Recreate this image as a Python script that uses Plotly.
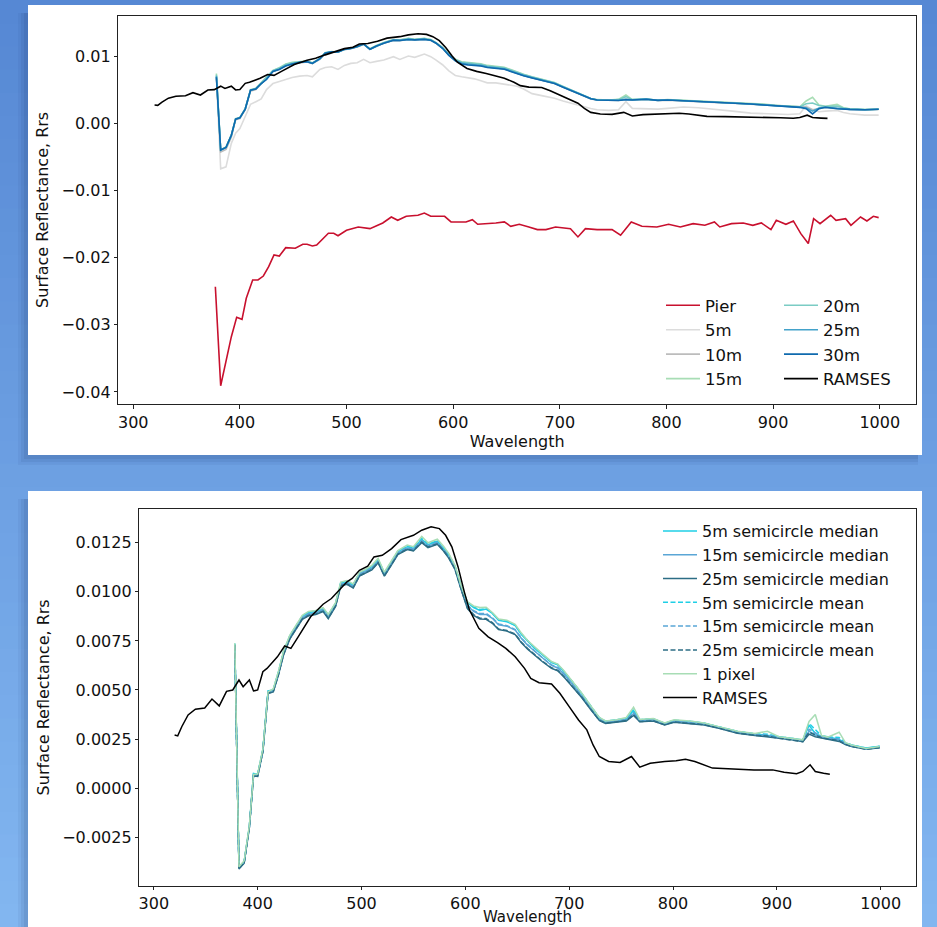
import plotly.graph_objects as go

# ---------------- DATA ----------------
WL = [378, 382, 387, 392, 396, 400, 405, 410, 415, 420,
      425, 431, 437, 443, 449, 456, 463, 468, 475, 480,
      486, 492, 498, 504, 510, 516, 522, 528, 535, 544,
      550, 558, 564, 573, 579, 584, 590, 596, 602, 608,
      614, 620, 626, 632, 640, 648, 654, 660, 666, 674,
      683, 689, 695, 703, 712, 720, 729, 735, 746, 755,
      762, 768, 781, 792, 801, 816, 830, 845, 862, 879,
      891, 902, 914, 925, 931, 937, 943, 949, 960, 966,
      972, 986, 999]

PIER_WL = [377, 382, 392, 397, 402, 406, 412, 417, 422, 427, 432, 437, 443, 452, 459, 463,
           468, 472, 483, 488, 492, 500, 511, 522, 534, 542, 548, 556, 567, 573, 579, 592,
           598, 612, 618, 623, 640, 648, 654, 662, 671, 679, 687, 696, 710, 717, 724, 735,
           749, 757, 767, 777, 791, 802, 813, 825, 836, 845, 850, 861, 872, 881, 889, 898,
           903, 912, 919, 926, 933, 938, 944, 954, 959, 968, 973, 982, 988, 994, 999]
PIER = [-0.02434, -0.03908, -0.03178, -0.02890, -0.02920, -0.02607, -0.02334, -0.02334,
        -0.02275, -0.02136, -0.01962, -0.01977, -0.01853, -0.01862, -0.01803, -0.01803,
        -0.01828, -0.01813, -0.01639, -0.01639, -0.01675, -0.01594, -0.01545, -0.01570,
        -0.01485, -0.01396, -0.01446, -0.01386, -0.01371, -0.01337, -0.01386, -0.01386,
        -0.01470, -0.01470, -0.01436, -0.01505, -0.01485, -0.01470, -0.01535, -0.01505,
        -0.01545, -0.01584, -0.01584, -0.01545, -0.01570, -0.01693, -0.01570, -0.01584,
        -0.01584, -0.01668, -0.01470, -0.01535, -0.01545, -0.01505, -0.01545, -0.01495,
        -0.01520, -0.01470, -0.01545, -0.01495, -0.01485, -0.01520, -0.01485, -0.01584,
        -0.01446, -0.01505, -0.01455, -0.01644, -0.01792, -0.01421, -0.01495, -0.01371,
        -0.01446, -0.01421, -0.01520, -0.01396, -0.01455, -0.01386, -0.01406]

RAMSES_WL = [320, 323, 327, 333, 340, 349, 356, 363, 370, 376, 382, 386, 392, 396, 400,
             405, 409, 419, 426, 432, 439, 451, 463, 471, 480, 486, 491, 498, 506, 512,
             520, 529, 538, 550, 558, 567, 575, 581, 587, 593, 599, 604, 613, 622, 631,
             639, 648, 657, 663, 671, 683, 691, 700, 709, 717, 723, 729, 738, 749, 760,
             768, 778, 792, 803, 812, 821, 838, 855, 878, 896, 907, 919, 925, 932, 937,
             945, 951]
RAMSES = [0.00271, 0.00266, 0.00314, 0.00373, 0.00402, 0.00408, 0.00454, 0.00419, 0.00493,
          0.00500, 0.00551, 0.00517, 0.00551, 0.00495, 0.00500, 0.00593, 0.00610, 0.00669,
          0.00724, 0.00712, 0.00771, 0.00873, 0.00937, 0.00966, 0.01017, 0.01051, 0.01068,
          0.01110, 0.01131, 0.01178, 0.01186, 0.01220, 0.01266, 0.01288, 0.01314, 0.01331,
          0.01322, 0.01288, 0.01229, 0.01127, 0.01000, 0.00907, 0.00814, 0.00771, 0.00741,
          0.00712, 0.00669, 0.00610, 0.00559, 0.00537, 0.00531, 0.00483, 0.00415, 0.00347,
          0.00297, 0.00220, 0.00161, 0.00136, 0.00131, 0.00161, 0.00107, 0.00127, 0.00136,
          0.00139, 0.00147, 0.00136, 0.00102, 0.00097, 0.00093, 0.00093, 0.00081, 0.00073,
          0.00085, 0.00119, 0.00085, 0.00076, 0.00071]

# Top panel: distances from the pier
S5M = [0.00660, -0.00680, -0.00650, -0.00300, -0.00150, -0.00080, 0.00100, 0.00280, 0.00320, 0.00360,
       0.00500, 0.00590, 0.00620, 0.00650, 0.00680, 0.00700, 0.00710, 0.00690, 0.00800, 0.00830,
       0.00840, 0.00800, 0.00860, 0.00890, 0.00900, 0.00950, 0.00900, 0.00920, 0.00940, 0.00990,
       0.00950, 0.01000, 0.00980, 0.01030, 0.00990, 0.00940, 0.00870, 0.00780, 0.00710, 0.00690,
       0.00680, 0.00660, 0.00630, 0.00600, 0.00600, 0.00580, 0.00560, 0.00550, 0.00510, 0.00440,
       0.00410, 0.00390, 0.00370, 0.00330, 0.00290, 0.00250, 0.00220, 0.00200, 0.00190, 0.00200,
       0.00320, 0.00220, 0.00210, 0.00210, 0.00220, 0.00240, 0.00230, 0.00210, 0.00180, 0.00150,
       0.00140, 0.00140, 0.00130, 0.00140, 0.00260, 0.00200, 0.00170, 0.00180, 0.00190, 0.00160,
       0.00140, 0.00120, 0.00120]
S10M = [0.00690, -0.00430, -0.00390, -0.00210, 0.00050, 0.00070, 0.00200, 0.00480, 0.00500, 0.00585,
        0.00660, 0.00770, 0.00805, 0.00855, 0.00880, 0.00900, 0.00912, 0.00885, 0.00950, 0.01040,
        0.01058, 0.01055, 0.01095, 0.01110, 0.01135, 0.01172, 0.01098, 0.01145, 0.01190, 0.01232,
        0.01228, 0.01248, 0.01240, 0.01250, 0.01232, 0.01188, 0.01115, 0.01012, 0.00935, 0.00888,
        0.00872, 0.00868, 0.00856, 0.00835, 0.00822, 0.00808, 0.00774, 0.00740, 0.00710, 0.00676,
        0.00642, 0.00620, 0.00592, 0.00538, 0.00480, 0.00425, 0.00362, 0.00345, 0.00338, 0.00340,
        0.00360, 0.00346, 0.00352, 0.00338, 0.00344, 0.00335, 0.00325, 0.00310, 0.00296, 0.00283,
        0.00272, 0.00262, 0.00252, 0.00238, 0.00240, 0.00200, 0.00222, 0.00234, 0.00218, 0.00206,
        0.00204, 0.00198, 0.00205]
S15M = [0.00740, -0.00395, -0.00355, -0.00175, 0.00068, 0.00085, 0.00215, 0.00500, 0.00518, 0.00600,
        0.00680, 0.00785, 0.00825, 0.00880, 0.00905, 0.00915, 0.00925, 0.00898, 0.00962, 0.01050,
        0.01066, 0.01060, 0.01102, 0.01118, 0.01140, 0.01180, 0.01108, 0.01155, 0.01200, 0.01245,
        0.01240, 0.01262, 0.01250, 0.01262, 0.01245, 0.01200, 0.01130, 0.01028, 0.00950, 0.00915,
        0.00905, 0.00900, 0.00885, 0.00860, 0.00848, 0.00832, 0.00798, 0.00760, 0.00730, 0.00692,
        0.00655, 0.00635, 0.00605, 0.00548, 0.00490, 0.00432, 0.00368, 0.00350, 0.00345, 0.00355,
        0.00420, 0.00352, 0.00360, 0.00342, 0.00350, 0.00340, 0.00330, 0.00315, 0.00300, 0.00288,
        0.00285, 0.00265, 0.00256, 0.00245, 0.00330, 0.00385, 0.00270, 0.00250, 0.00280, 0.00230,
        0.00215, 0.00204, 0.00210]
S20M = [0.00720, -0.00398, -0.00358, -0.00178, 0.00064, 0.00082, 0.00212, 0.00496, 0.00514, 0.00596,
        0.00676, 0.00780, 0.00820, 0.00875, 0.00900, 0.00912, 0.00922, 0.00895, 0.00960, 0.01048,
        0.01064, 0.01058, 0.01100, 0.01116, 0.01138, 0.01178, 0.01104, 0.01152, 0.01198, 0.01242,
        0.01236, 0.01258, 0.01246, 0.01258, 0.01242, 0.01196, 0.01126, 0.01024, 0.00946, 0.00908,
        0.00895, 0.00892, 0.00878, 0.00852, 0.00840, 0.00825, 0.00790, 0.00754, 0.00724, 0.00686,
        0.00650, 0.00630, 0.00600, 0.00545, 0.00486, 0.00430, 0.00366, 0.00348, 0.00342, 0.00350,
        0.00395, 0.00350, 0.00358, 0.00340, 0.00348, 0.00338, 0.00328, 0.00313, 0.00298, 0.00286,
        0.00276, 0.00264, 0.00255, 0.00243, 0.00290, 0.00300, 0.00262, 0.00248, 0.00255, 0.00226,
        0.00212, 0.00202, 0.00208]
S25M = [0.00700, -0.00402, -0.00362, -0.00182, 0.00062, 0.00080, 0.00210, 0.00492, 0.00512, 0.00592,
        0.00662, 0.00775, 0.00808, 0.00858, 0.00886, 0.00908, 0.00918, 0.00892, 0.00958, 0.01044,
        0.01062, 0.01060, 0.01098, 0.01112, 0.01138, 0.01178, 0.01100, 0.01148, 0.01192, 0.01236,
        0.01232, 0.01248, 0.01242, 0.01250, 0.01236, 0.01192, 0.01118, 0.01014, 0.00936, 0.00890,
        0.00876, 0.00870, 0.00860, 0.00838, 0.00824, 0.00810, 0.00778, 0.00742, 0.00712, 0.00678,
        0.00645, 0.00622, 0.00595, 0.00540, 0.00482, 0.00428, 0.00366, 0.00346, 0.00338, 0.00342,
        0.00356, 0.00348, 0.00358, 0.00342, 0.00346, 0.00336, 0.00326, 0.00311, 0.00299, 0.00286,
        0.00273, 0.00263, 0.00253, 0.00238, 0.00230, 0.00180, 0.00225, 0.00238, 0.00220, 0.00208,
        0.00206, 0.00201, 0.00208]
S30M = [0.00683, -0.00400, -0.00360, -0.00180, 0.00060, 0.00080, 0.00210, 0.00490, 0.00510, 0.00590,
        0.00650, 0.00770, 0.00800, 0.00850, 0.00880, 0.00905, 0.00915, 0.00890, 0.00960, 0.01040,
        0.01064, 0.01062, 0.01100, 0.01114, 0.01140, 0.01180, 0.01100, 0.01150, 0.01190, 0.01235,
        0.01230, 0.01245, 0.01240, 0.01248, 0.01235, 0.01190, 0.01115, 0.01010, 0.00930, 0.00880,
        0.00866, 0.00860, 0.00851, 0.00830, 0.00815, 0.00802, 0.00770, 0.00735, 0.00705, 0.00672,
        0.00640, 0.00615, 0.00590, 0.00535, 0.00478, 0.00425, 0.00365, 0.00345, 0.00335, 0.00338,
        0.00348, 0.00345, 0.00356, 0.00340, 0.00345, 0.00335, 0.00325, 0.00310, 0.00298, 0.00285,
        0.00271, 0.00262, 0.00252, 0.00236, 0.00215, 0.00137, 0.00215, 0.00236, 0.00215, 0.00207,
        0.00205, 0.00200, 0.00207]

# Bottom panel: semicircle aggregations
MED5 = [0.00735, -0.00405, -0.00375, -0.00195, 0.00075, 0.00070, 0.00195, 0.00495, 0.00500, 0.00590,
        0.00695, 0.00775, 0.00825, 0.00875, 0.00895, 0.00900, 0.00915, 0.00880, 0.00940, 0.01045,
        0.01052, 0.01035, 0.01095, 0.01110, 0.01128, 0.01162, 0.01095, 0.01145, 0.01205, 0.01230,
        0.01222, 0.01268, 0.01240, 0.01258, 0.01222, 0.01188, 0.01130, 0.01028, 0.00945, 0.00920,
        0.00905, 0.00912, 0.00890, 0.00855, 0.00848, 0.00828, 0.00782, 0.00748, 0.00716, 0.00680,
        0.00640, 0.00628, 0.00594, 0.00542, 0.00482, 0.00422, 0.00358, 0.00340, 0.00346, 0.00352,
        0.00395, 0.00348, 0.00352, 0.00330, 0.00345, 0.00340, 0.00330, 0.00312, 0.00288, 0.00276,
        0.00270, 0.00262, 0.00254, 0.00245, 0.00320, 0.00278, 0.00265, 0.00262, 0.00248, 0.00230,
        0.00220, 0.00204, 0.00214]
MED15 = [0.00730, -0.00408, -0.00378, -0.00198, 0.00068, 0.00066, 0.00190, 0.00488, 0.00495, 0.00582,
         0.00688, 0.00768, 0.00818, 0.00868, 0.00886, 0.00892, 0.00908, 0.00872, 0.00932, 0.01038,
         0.01045, 0.01028, 0.01088, 0.01102, 0.01120, 0.01155, 0.01088, 0.01138, 0.01198, 0.01222,
         0.01215, 0.01258, 0.01232, 0.01250, 0.01215, 0.01180, 0.01122, 0.01018, 0.00930, 0.00900,
         0.00885, 0.00885, 0.00865, 0.00832, 0.00825, 0.00805, 0.00762, 0.00728, 0.00700, 0.00662,
         0.00625, 0.00612, 0.00580, 0.00530, 0.00472, 0.00415, 0.00352, 0.00336, 0.00342, 0.00348,
         0.00380, 0.00344, 0.00348, 0.00327, 0.00342, 0.00336, 0.00327, 0.00308, 0.00284, 0.00272,
         0.00266, 0.00258, 0.00250, 0.00240, 0.00290, 0.00270, 0.00262, 0.00256, 0.00244, 0.00226,
         0.00216, 0.00200, 0.00210]
MED25 = [0.00728, -0.00412, -0.00382, -0.00202, 0.00062, 0.00060, 0.00185, 0.00482, 0.00490, 0.00576,
         0.00680, 0.00760, 0.00810, 0.00860, 0.00878, 0.00885, 0.00900, 0.00864, 0.00925, 0.01030,
         0.01038, 0.01020, 0.01080, 0.01095, 0.01112, 0.01148, 0.01080, 0.01130, 0.01190, 0.01215,
         0.01208, 0.01250, 0.01225, 0.01242, 0.01208, 0.01172, 0.01115, 0.01010, 0.00915, 0.00880,
         0.00862, 0.00860, 0.00840, 0.00808, 0.00800, 0.00782, 0.00740, 0.00708, 0.00680, 0.00645,
         0.00610, 0.00598, 0.00566, 0.00518, 0.00462, 0.00405, 0.00345, 0.00330, 0.00336, 0.00342,
         0.00370, 0.00338, 0.00342, 0.00322, 0.00336, 0.00330, 0.00322, 0.00304, 0.00280, 0.00268,
         0.00262, 0.00254, 0.00246, 0.00236, 0.00275, 0.00262, 0.00256, 0.00250, 0.00238, 0.00222,
         0.00212, 0.00198, 0.00206]
MEAN5 = [0.00736, -0.00403, -0.00373, -0.00193, 0.00073, 0.00071, 0.00197, 0.00493, 0.00502, 0.00592,
         0.00697, 0.00777, 0.00827, 0.00877, 0.00897, 0.00902, 0.00917, 0.00882, 0.00942, 0.01047,
         0.01054, 0.01037, 0.01097, 0.01112, 0.01130, 0.01165, 0.01097, 0.01147, 0.01207, 0.01233,
         0.01225, 0.01272, 0.01243, 0.01261, 0.01225, 0.01190, 0.01132, 0.01029, 0.00947, 0.00923,
         0.00910, 0.00915, 0.00892, 0.00858, 0.00850, 0.00830, 0.00785, 0.00750, 0.00718, 0.00682,
         0.00642, 0.00630, 0.00595, 0.00543, 0.00483, 0.00423, 0.00359, 0.00341, 0.00347, 0.00355,
         0.00400, 0.00349, 0.00353, 0.00331, 0.00346, 0.00341, 0.00331, 0.00312, 0.00289, 0.00277,
         0.00275, 0.00262, 0.00254, 0.00245, 0.00330, 0.00300, 0.00266, 0.00261, 0.00258, 0.00231,
         0.00220, 0.00203, 0.00213]
MEAN15 = [0.00731, -0.00406, -0.00376, -0.00196, 0.00067, 0.00067, 0.00192, 0.00490, 0.00497, 0.00584,
          0.00690, 0.00770, 0.00820, 0.00870, 0.00888, 0.00894, 0.00910, 0.00874, 0.00934, 0.01040,
          0.01047, 0.01030, 0.01090, 0.01104, 0.01122, 0.01157, 0.01090, 0.01140, 0.01200, 0.01225,
          0.01218, 0.01262, 0.01235, 0.01253, 0.01218, 0.01182, 0.01124, 0.01020, 0.00933, 0.00904,
          0.00890, 0.00890, 0.00868, 0.00836, 0.00828, 0.00808, 0.00765, 0.00731, 0.00702, 0.00665,
          0.00628, 0.00615, 0.00583, 0.00532, 0.00474, 0.00417, 0.00353, 0.00337, 0.00343, 0.00350,
          0.00385, 0.00345, 0.00349, 0.00328, 0.00343, 0.00337, 0.00328, 0.00309, 0.00285, 0.00273,
          0.00270, 0.00258, 0.00250, 0.00241, 0.00300, 0.00282, 0.00263, 0.00256, 0.00250, 0.00227,
          0.00216, 0.00200, 0.00210]
MEAN25 = [0.00729, -0.00410, -0.00380, -0.00200, 0.00063, 0.00062, 0.00187, 0.00484, 0.00492, 0.00578,
          0.00682, 0.00762, 0.00812, 0.00862, 0.00880, 0.00887, 0.00902, 0.00866, 0.00927, 0.01032,
          0.01040, 0.01022, 0.01082, 0.01097, 0.01114, 0.01150, 0.01082, 0.01132, 0.01192, 0.01218,
          0.01210, 0.01254, 0.01228, 0.01245, 0.01210, 0.01175, 0.01117, 0.01012, 0.00918, 0.00884,
          0.00866, 0.00864, 0.00843, 0.00811, 0.00803, 0.00785, 0.00743, 0.00711, 0.00683, 0.00648,
          0.00613, 0.00600, 0.00568, 0.00520, 0.00464, 0.00407, 0.00346, 0.00331, 0.00337, 0.00344,
          0.00375, 0.00339, 0.00343, 0.00323, 0.00337, 0.00331, 0.00323, 0.00305, 0.00281, 0.00269,
          0.00265, 0.00254, 0.00246, 0.00237, 0.00285, 0.00272, 0.00257, 0.00250, 0.00242, 0.00223,
          0.00212, 0.00198, 0.00206]
PIX1 = [0.00738, -0.00400, -0.00370, -0.00190, 0.00070, 0.00072, 0.00200, 0.00490, 0.00505, 0.00595,
        0.00700, 0.00780, 0.00830, 0.00880, 0.00900, 0.00905, 0.00920, 0.00885, 0.00945, 0.01050,
        0.01058, 0.01040, 0.01100, 0.01115, 0.01135, 0.01170, 0.01100, 0.01150, 0.01210, 0.01238,
        0.01230, 0.01282, 0.01250, 0.01268, 0.01232, 0.01196, 0.01135, 0.01030, 0.00950, 0.00928,
        0.00920, 0.00922, 0.00895, 0.00862, 0.00855, 0.00835, 0.00790, 0.00752, 0.00722, 0.00685,
        0.00645, 0.00632, 0.00598, 0.00545, 0.00485, 0.00425, 0.00360, 0.00342, 0.00348, 0.00360,
        0.00412, 0.00350, 0.00355, 0.00332, 0.00348, 0.00342, 0.00332, 0.00312, 0.00290, 0.00278,
        0.00290, 0.00262, 0.00255, 0.00246, 0.00340, 0.00375, 0.00268, 0.00260, 0.00285, 0.00232,
        0.00220, 0.00202, 0.00212]

TOP_SERIES = [("Pier", "PIER"), ("5m", S5M), ("10m", S10M), ("15m", S15M),
              ("20m", S20M), ("25m", S25M), ("30m", S30M), ("RAMSES", "RAMSES")]
BOTTOM_SERIES = [("5m semicircle median", MED5), ("15m semicircle median", MED15),
                 ("25m semicircle median", MED25), ("5m semicircle mean", MEAN5),
                 ("15m semicircle mean", MEAN15), ("25m semicircle mean", MEAN25),
                 ("1 pixel", PIX1), ("RAMSES", "RAMSES")]
X_TICKS = [300, 400, 500, 600, 700, 800, 900, 1000]
X_TITLE = "Wavelength"
Y_TITLE = "Surface Reflectance, Rrs"

for arr in [S5M, S10M, S15M, S20M, S25M, S30M, MED5, MED15, MED25, MEAN5, MEAN15, MEAN25, PIX1]:
    assert len(arr) == len(WL), len(arr)
assert len(PIER) == len(PIER_WL)
assert len(RAMSES) == len(RAMSES_WL)

# ---------------- STYLE ----------------
W, H = 937, 927
FONT = "DejaVu Sans"
TOP_COLORS = {"Pier": "#c8102e", "5m": "#dcdcdc", "10m": "#bcbcbc", "15m": "#a8ddb5",
              "20m": "#7bccc4", "25m": "#43a2ca", "30m": "#0f6aae", "RAMSES": "#000000"}
BOT_COLORS = {"5m semicircle median": "#1fcfe6", "15m semicircle median": "#5aa6d6",
              "25m semicircle median": "#2c6d85", "5m semicircle mean": "#1fcfe6",
              "15m semicircle mean": "#5aa6d6", "25m semicircle mean": "#2c6d85",
              "1 pixel": "#a8ddb5", "RAMSES": "#000000"}


def px_x(x):
    return x / W


def px_y(y):
    return 1 - y / H


fig = go.Figure()

# top panel traces
for i, (name, vals) in enumerate(TOP_SERIES):
    if vals == "PIER":
        xs, ys = PIER_WL, PIER
    elif vals == "RAMSES":
        xs, ys = RAMSES_WL, RAMSES
    else:
        xs, ys = WL, vals
    fig.add_trace(go.Scatter(
        x=xs, y=ys, mode="lines", name=name,
        line=dict(color=TOP_COLORS[name], width=1.6),
        xaxis="x", yaxis="y",
        legend="legend" if i < 4 else "legend2"))

# bottom panel traces
for name, vals in BOTTOM_SERIES:
    if vals == "RAMSES":
        xs, ys = RAMSES_WL, RAMSES
    else:
        xs, ys = WL, vals
    dash = "5px,2.5px" if "mean" in name else "solid"
    fig.add_trace(go.Scatter(
        x=xs, y=ys, mode="lines", name=name,
        line=dict(color=BOT_COLORS[name], width=1.5, dash=dash),
        xaxis="x2", yaxis="y2", legend="legend3"))

# background gradient + panel shadows + white panels
shapes = []
N = 40
c0 = (86, 136, 212)
c1 = (130, 182, 240)
for k in range(N):
    t = k / (N - 1)
    col = tuple(int(round(c0[j] + (c1[j] - c0[j]) * t)) for j in range(3))
    shapes.append(dict(type="rect", xref="paper", yref="paper", layer="below",
                       x0=0, x1=1, y0=1 - (k + 1) / N - 0.002, y1=1 - k / N,
                       fillcolor="rgb(%d,%d,%d)" % col, line=dict(width=0)))
panels = [(28, 5, 922, 455), (28, 491, 922, 940)]
for (x0, y0, x1, y1) in panels:
    for d, a in [(10, 0.05), (7, 0.07), (4, 0.09)]:
        shapes.append(dict(type="rect", xref="paper", yref="paper", layer="below",
                           x0=px_x(x0 - d), x1=px_x(x1 - 4), y0=px_y(y1 + d), y1=px_y(y0 + 8),
                           fillcolor="rgba(20,40,90,%.2f)" % a, line=dict(width=0)))
    shapes.append(dict(type="rect", xref="paper", yref="paper", layer="below",
                       x0=px_x(x0), x1=px_x(x1), y0=px_y(y1), y1=px_y(y0),
                       fillcolor="white", line=dict(width=0)))

axis_common = dict(showgrid=False, zeroline=False, showline=True, mirror=True,
                   linecolor="#222222", linewidth=1, ticks="outside", ticklen=3.5,
                   tickwidth=1, tickcolor="#222222", automargin=False,
                   tickfont=dict(family=FONT, size=16, color="#111111"))

fig.update_layout(
    width=W, height=H, autosize=False,
    margin=dict(l=0, r=0, t=0, b=0, autoexpand=False),
    paper_bgcolor="rgb(100,150,222)", plot_bgcolor="white",
    font=dict(family=FONT, size=16, color="#111111"),
    shapes=shapes,
    xaxis=dict(domain=[px_x(118.3), px_x(916)], range=[286, 1034], anchor="y",
               tickvals=X_TICKS,
               title=dict(text=X_TITLE, font=dict(family=FONT, size=16), standoff=5),
               **axis_common),
    yaxis=dict(domain=[px_y(404), px_y(15.7)], range=[-0.0418, 0.0160], anchor="x",
               dtick=0.01, tick0=0, tickformat=".2f",
               title=dict(text=Y_TITLE, font=dict(family=FONT, size=16), standoff=8),
               **axis_common),
    xaxis2=dict(domain=[px_x(139.3), px_x(916)], range=[286, 1034], anchor="y2",
                tickvals=X_TICKS, **axis_common),
    yaxis2=dict(domain=[px_y(885.7), px_y(509)], range=[-0.00497, 0.01422], anchor="x2",
                dtick=0.0025, tick0=0, tickformat=".4f",
                title=dict(text=Y_TITLE, font=dict(family=FONT, size=16), standoff=8),
                **axis_common),
    annotations=[dict(text=X_TITLE, xref="paper", yref="paper",
                      x=(px_x(139.3) + px_x(916)) / 2, y=px_y(927),
                      xanchor="center", yanchor="bottom", showarrow=False, borderpad=0,
                      font=dict(family=FONT, size=15, color="#111111"))],
    legend=dict(x=px_x(661), y=px_y(288), xanchor="left", yanchor="top",
                bgcolor="rgba(0,0,0,0)", font=dict(family=FONT, size=16.5),
                itemwidth=34, tracegroupgap=0),
    legend2=dict(x=px_x(779), y=px_y(288), xanchor="left", yanchor="top",
                 bgcolor="rgba(0,0,0,0)", font=dict(family=FONT, size=16.5),
                 itemwidth=34, tracegroupgap=0),
    legend3=dict(x=px_x(658), y=px_y(514), xanchor="left", yanchor="top",
                 bgcolor="rgba(0,0,0,0)", font=dict(family=FONT, size=16),
                 itemwidth=34, tracegroupgap=0),
    showlegend=True,
)

fig.write_html("out.html",
               config={"displayModeBar": False},
               post_script="document.body.style.margin='0px';document.body.style.padding='0px';")
